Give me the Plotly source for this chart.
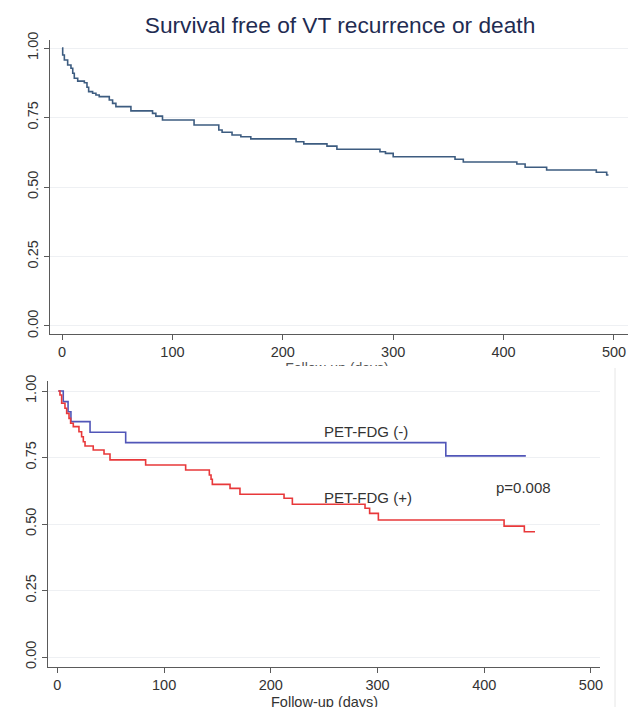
import plotly.graph_objects as go

# ---------------- data ----------------
# Overall Kaplan-Meier curve: survival free of VT recurrence or death
all_days = [0, 0.6, 2.1, 5.1, 8.1, 9.7, 11.1, 14.2, 20.2, 22.6, 24.1, 27.7, 30.7, 33.7,
            42.8, 45.8, 48.8, 62.4, 82, 85, 91, 119.6, 142, 145, 154, 162, 171, 212,
            219, 240, 249, 288, 293, 300, 356, 363.5, 412, 419.5, 439, 484, 493.4, 495]
all_surv = [1.0, 0.975, 0.957, 0.939, 0.927, 0.909, 0.891, 0.881, 0.875, 0.859, 0.843,
            0.837, 0.831, 0.825, 0.813, 0.801, 0.789, 0.774, 0.765, 0.755, 0.741, 0.723,
            0.705, 0.697, 0.687, 0.681, 0.673, 0.663, 0.655, 0.647, 0.636, 0.627, 0.621,
            0.609, 0.600, 0.590, 0.583, 0.571, 0.561, 0.553, 0.543, 0.543]

# PET-FDG (-) group
neg_days = [0.9, 5.5, 10, 12.7, 30.6, 64, 364, 439]
neg_surv = [1.0, 0.960, 0.922, 0.885, 0.845, 0.806, 0.756, 0.756]

# PET-FDG (+) group
pos_days = [0.9, 2.4, 4.0, 7.1, 8.7, 10.9, 12.4, 14.9, 20.2, 22.7, 24.3, 25.9, 33.6,
            43.7, 49.3, 82.7, 120.2, 142.4, 144, 145.2, 161.8, 171.1, 212.4, 220.2,
            288.3, 292.6, 300.8, 418.6, 437.6, 447.6]
pos_surv = [1.0, 0.985, 0.954, 0.935, 0.916, 0.897, 0.879, 0.866, 0.847, 0.828, 0.809,
            0.793, 0.778, 0.763, 0.741, 0.722, 0.703, 0.684, 0.668, 0.649, 0.634, 0.612,
            0.597, 0.574, 0.559, 0.540, 0.515, 0.492, 0.471, 0.471]

y_ticks = [0, 0.25, 0.5, 0.75, 1.0]
y_tick_labels = ["0.00", "0.25", "0.50", "0.75", "1.00"]
x_ticks = [0, 100, 200, 300, 400, 500]
x_tick_labels = ["0", "100", "200", "300", "400", "500"]

title_text = "Survival free of VT recurrence or death"
x_title = "Follow-up (days)"
label_neg = "PET-FDG (-)"
label_pos = "PET-FDG (+)"
p_text = "p=0.008"

# ---------------- figure ----------------
W, H = 628, 707
FONT = "Liberation Sans, Arial, sans-serif"
TXT = "#333333"
AX = "#5a5a5a"
GRID = "#eef0f3"


def py(pix):
    return 1 - pix / H


fig = go.Figure()

fig.add_trace(go.Scatter(x=all_days, y=all_surv, mode="lines", line_shape="hv",
                         line=dict(color="#3d5c80", width=1.6), xaxis="x", yaxis="y",
                         showlegend=False, hoverinfo="skip"))
fig.add_trace(go.Scatter(x=neg_days, y=neg_surv, mode="lines", line_shape="hv",
                         line=dict(color="#5156b8", width=1.6), xaxis="x2", yaxis="y2",
                         showlegend=False, name=label_neg))
fig.add_trace(go.Scatter(x=pos_days, y=pos_surv, mode="lines", line_shape="hv",
                         line=dict(color="#e8383a", width=1.6), xaxis="x2", yaxis="y2",
                         showlegend=False, name=label_pos))

# top panel x-axis title, mostly hidden behind the lower panel (clipped text)
fig.add_trace(go.Scatter(x=[337], y=[369], mode="text", text=[x_title],
                         textfont=dict(family=FONT, size=14, color="#555555"),
                         textposition="middle center", cliponaxis=True,
                         xaxis="x3", yaxis="y3", showlegend=False, hoverinfo="skip"))

common_x = dict(showline=True, linecolor=AX, linewidth=1, ticks="outside", ticklen=5,
                tickcolor=AX, tickwidth=1, showgrid=False, zeroline=False, automargin=False,
                tickmode="array", tickvals=x_ticks, ticktext=x_tick_labels,
                tickfont=dict(family=FONT, size=14.5, color=TXT))
common_y = dict(showline=True, linecolor=AX, linewidth=1, ticks="outside", ticklen=5,
                tickcolor=AX, tickwidth=1, showgrid=True, gridcolor=GRID, gridwidth=1,
                zeroline=False, automargin=False, tickmode="array", tickvals=y_ticks,
                ticktext=y_tick_labels, tickangle=-90,
                tickfont=dict(family=FONT, size=14.5, color=TXT))

fig.update_layout(
    width=W, height=H,
    margin=dict(l=0, r=0, t=0, b=0, pad=0, autoexpand=False),
    paper_bgcolor="white",
    plot_bgcolor="rgba(0,0,0,0)",
    font=dict(family=FONT, color=TXT),
    title=dict(text=title_text, x=340 / W, y=py(25), xanchor="center", yanchor="middle",
               automargin=False, font=dict(family=FONT, size=22.7, color="#1f2c52")),
    xaxis=dict(domain=[50 / W, 1.0], range=[-10.9, 512.7], anchor="y", **common_x),
    yaxis=dict(domain=[py(334), py(40)], range=[-0.0288, 1.0288], anchor="x", **common_y),
    xaxis2=dict(domain=[48 / W, 600 / W], range=[-8.8, 508.5], anchor="y2", **common_x),
    yaxis2=dict(domain=[py(667), py(381)], range=[-0.0376, 1.0376], anchor="x2", **common_y),
    xaxis3=dict(domain=[0, 1], range=[0, W], anchor="y3", visible=False, showgrid=False,
                automargin=False),
    yaxis3=dict(domain=[py(366), py(350)], range=[366, 350], anchor="x3", visible=False,
                showgrid=False, automargin=False),
    annotations=[
        dict(text=label_neg, x=289, y=0.846, xref="x2", yref="y2", showarrow=False,
             font=dict(family=FONT, size=15, color=TXT)),
        dict(text=label_pos, x=291, y=0.601, xref="x2", yref="y2", showarrow=False,
             font=dict(family=FONT, size=15, color=TXT)),
        dict(text=p_text, x=437, y=0.639, xref="x2", yref="y2", showarrow=False,
             font=dict(family=FONT, size=15, color=TXT)),
        # x-axis title of the lower panel (slightly cut by the bottom edge, as in the source)
        dict(text=x_title, x=324 / W, y=py(702), xref="paper", yref="paper",
             xanchor="center", yanchor="middle", showarrow=False,
             font=dict(family=FONT, size=14.5, color=TXT)),
    ],
    shapes=[
        dict(type="line", xref="paper", yref="paper", x0=615 / W, x1=615 / W,
             y0=0, y1=py(368), line=dict(color="#e6e6e6", width=1)),
    ],
)

fig.write_html("out.html",
               config={"displayModeBar": False},
               post_script="document.body.style.margin='0';"
                           "document.body.style.overflow='hidden';")
